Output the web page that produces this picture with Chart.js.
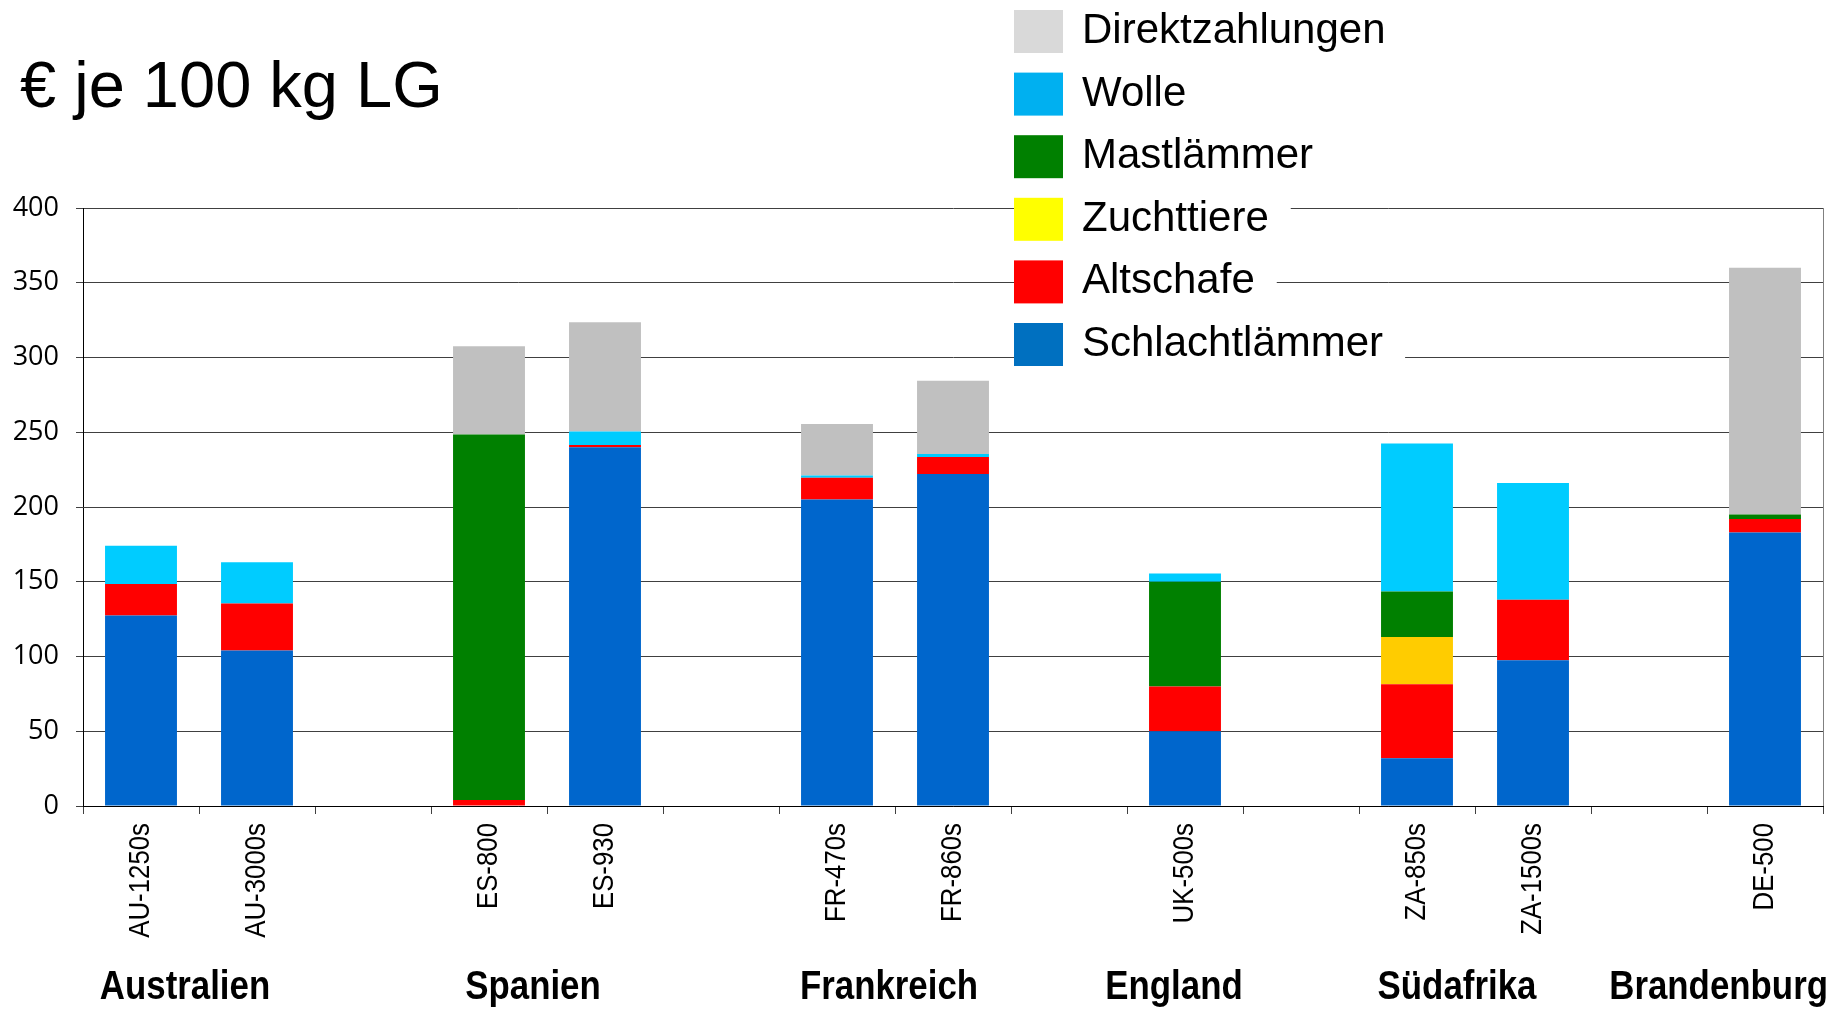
<!DOCTYPE html>
<html><head><meta charset="utf-8">
<script src="https://cdn.jsdelivr.net/npm/chart.js@4.4.0/dist/chart.umd.min.js"></script>
<style>html,body{margin:0;padding:0;background:#fff;overflow:hidden}canvas{display:block}</style>
</head><body>
<canvas id="c" width="1847" height="1009"></canvas>
<script>
// ---- data ----
const categories = ['AU-1250s','AU-3000s','','ES-800','ES-930','','FR-470s','FR-860s','','UK-500s','','ZA-850s','ZA-1500s','','DE-500'];
const schlachtlaemmer = [127.5, 104, null, 0, 240, null, 205, 222, null, 50, null, 32, 97.5, null, 183];
const altschafe       = [21, 31.5, null, 4, 1.5, null, 14.5, 11.5, null, 30, null, 49.5, 40.5, null, 9];
const zuchttiere      = [0, 0, null, 0, 0, null, 0, 0, null, 0, null, 31.5, 0, null, 0];
const mastlaemmer     = [0, 0, null, 244.5, 0, null, 0, 0, null, 70, null, 30.5, 0, null, 3];
const wolle           = [25.5, 27.5, null, 0, 9, null, 1.5, 2, null, 5.5, null, 99, 78, null, 0];
const direktzahlungen = [0, 0, null, 59, 73, null, 34.5, 49, null, 0, null, 0, 0, null, 165];
const seriesNames = ['Schlachtlämmer','Altschafe','Zuchttiere','Mastlämmer','Wolle','Direktzahlungen'];
const groupNames = ['Australien','Spanien','Frankreich','England','Südafrika','Brandenburg'];
const groupFirst = [0, 3, 6, 9, 11, 14];
const groupLast  = [1, 4, 7, 9, 12, 14];
const yMin = 0, yMax = 400, yStep = 50;
const titleText = '€ je 100 kg LG';

// ---- styles ----
const barColors    = ['#0066CC','#FF0000','#FFCC00','#008000','#00CCFF','#C0C0C0'];
const legendColors = ['#0070C0','#FF0000','#FFFF00','#008000','#00B0F0','#D9D9D9'];
const groupShift   = [-14, -14, -6, -11, -18, -14];

function fontAvailable(name){
  const ctx=document.createElement('canvas').getContext('2d');
  const s='AU-1250s Brandenburg mmmWWWiii';
  ctx.font='40px monospace'; const a=ctx.measureText(s).width;
  ctx.font='40px "'+name+'", monospace'; const b=ctx.measureText(s).width;
  return Math.abs(a-b)>0.5;
}
let NARROW = null;
if (fontAvailable('Liberation Sans Narrow')) NARROW='"Liberation Sans Narrow"';
else if (fontAvailable('Arial Narrow')) NARROW='"Arial Narrow"';
const SANS = '"Liberation Sans", Arial, sans-serif';
const condFamily = NARROW ? NARROW : SANS;
const condScale = NARROW ? 1.04 : 0.86;

const series = [schlachtlaemmer, altschafe, zuchttiere, mastlaemmer, wolle, direktzahlungen];
const datasets = series.map((d,i)=>({
  label: seriesNames[i], data: d, backgroundColor: barColors[i], borderWidth: 0,
  categoryPercentage: 1.0, barPercentage: 0.62, stack: 's'
}));

const decor = {
  id: 'decor',
  beforeDatasetsDraw(chart){
    const {ctx, chartArea:a} = chart;
    ctx.save();
    ctx.strokeStyle='#808080'; ctx.lineWidth=1;
    ctx.beginPath(); ctx.moveTo(Math.round(a.right)+0.5, a.top); ctx.lineTo(Math.round(a.right)+0.5, a.bottom); ctx.stroke();
    ctx.restore();
  },
  afterDraw(chart){
    const {ctx, chartArea:a} = chart;
    const xs = chart.scales.x;
    ctx.save();
    ctx.fillStyle='#000';
    // x tick labels (condensed, rotated, reading bottom to top)
    ctx.font='30px '+condFamily;
    xs.ticks.forEach((t)=>{
      const lbl = xs.getLabelForValue(t.value);
      if (!lbl) return;
      const x = xs.getPixelForValue(t.value);
      ctx.save();
      ctx.translate(x, a.bottom + 17);
      ctx.rotate(-Math.PI/2);
      ctx.scale(condScale, 1);
      ctx.textAlign='right'; ctx.textBaseline='middle';
      ctx.fillText(lbl, 0, 0);
      ctx.restore();
    });
    // title
    ctx.font='65px '+SANS; ctx.textBaseline='alphabetic'; ctx.textAlign='left';
    ctx.fillText(titleText, 20, 107);
    // group labels
    const sx = NARROW ? 1.03 : 0.85;
    ctx.font = 'bold 41px '+condFamily;
    groupNames.forEach((g,i)=>{
      const c = (xs.getPixelForValue(groupFirst[i]) + xs.getPixelForValue(groupLast[i]))/2 + groupShift[i];
      const w = ctx.measureText(g).width*sx;
      let left = c - w/2;
      if (left + w > chart.width - 19) left = chart.width - 19 - w;
      ctx.save(); ctx.translate(left, 999); ctx.scale(sx,1);
      ctx.textAlign='left'; ctx.fillText(g, 0, 0); ctx.restore();
    });
    // legend
    ctx.font='42px '+SANS;
    const n = chart.data.datasets.length;
    for (let k=0;k<n;k++){
      const i = n-1-k;
      const top = 10 + k*62.6;
      const label = chart.data.datasets[i].label;
      const tw = ctx.measureText(label).width;
      ctx.fillStyle='#fff';
      ctx.fillRect(1014, top-2, 1082-1014+tw+22, 47);
      ctx.fillStyle=legendColors[i];
      ctx.fillRect(1014, top, 49, 43);
      ctx.fillStyle='#000';
      ctx.textAlign='left'; ctx.textBaseline='alphabetic';
      ctx.fillText(label, 1082, top+33);
    }
    ctx.restore();
  }
};

new Chart(document.getElementById('c'), {
  type: 'bar',
  data: { labels: categories, datasets },
  options: {
    responsive: false, animation: false,
    layout: { padding: { top: 208, right: 24, left: 0, bottom: 0 } },
    plugins: { legend: { display: false }, title: { display: false }, tooltip: { enabled: false } },
    scales: {
      x: {
        stacked: true,
        grid: { offset: true, drawOnChartArea: false, tickLength: 8, color: '#404040', lineWidth: 1 },
        border: { color: '#000', width: 1 },
        ticks: { autoSkip: false, minRotation: 90, maxRotation: 90, padding: 8,
                 color: 'rgba(0,0,0,0)', font: { family: condFamily, size: 30 } },
        afterFit(s){ s.height = 203; }
      },
      y: {
        stacked: true, min: yMin, max: yMax,
        grid: { color: '#404040', lineWidth: 1, tickLength: 7 },
        border: { color: '#000', width: 1 },
        ticks: { stepSize: yStep, padding: 17, color: '#000', font: { family: '"Open Sans", sans-serif', size: 27 } },
        afterFit(s){ s.width = 83; }
      }
    }
  },
  plugins: [decor]
});
</script>
</body></html>
